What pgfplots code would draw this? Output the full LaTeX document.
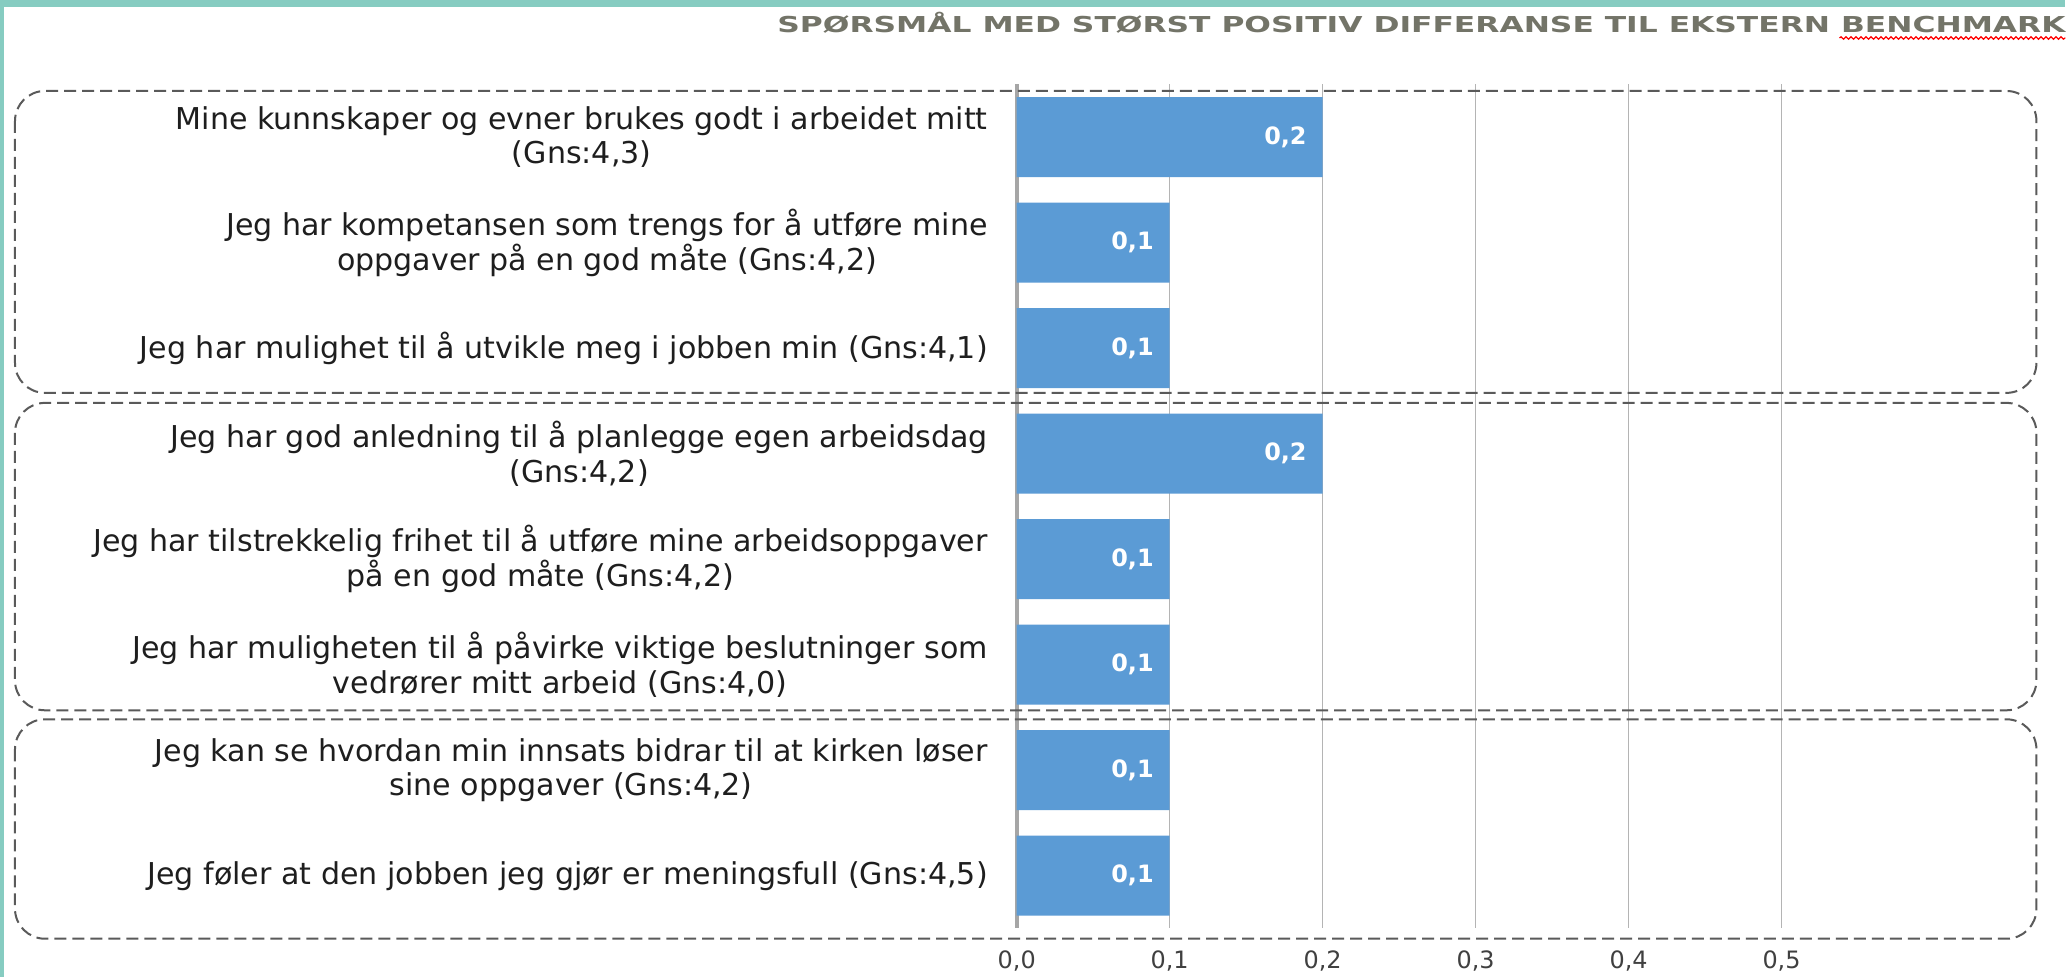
\documentclass[border=0pt]{standalone}
\usepackage{pgfplots}
\pgfplotsset{compat=1.18}
\usepackage{fontspec}
\setmainfont{DejaVu Sans}
\usetikzlibrary{decorations.pathmorphing}
\definecolor{tealband}{HTML}{86CCC1}
\definecolor{barblue}{HTML}{5B9BD5}
\definecolor{titlegray}{HTML}{737468}
\definecolor{gridgray}{HTML}{B4B4B4}
\definecolor{axisgray}{HTML}{A6A6A6}
\definecolor{boxgray}{HTML}{5A5A5A}
\definecolor{labelblack}{HTML}{1E1E1E}
\definecolor{tickgray}{HTML}{404040}
\begin{document}
\begin{tikzpicture}
\begin{scope}[x=0.5bp,y=-0.5bp]
\path[use as bounding box, fill=white] (0,0) rectangle (2066,977);
\fill[tealband] (0,0) rectangle (2066,7);
\fill[tealband] (0,0) rectangle (4,977);
\end{scope}
\begin{axis}[
  at={(508.5bp,-464.35bp)}, anchor=south west,
  width=382.5bp, height=422.2bp, scale only axis,
  xbar, bar width=40bp,
  xmin=0, xmax=0.5, ymin=-0.5, ymax=7.5, y dir=reverse,
  axis x line*=bottom, axis y line*=left,
  x axis line style={draw=none},
  y axis line style={draw=axisgray, line width=2.2bp},
  major tick length=0pt,
  xtick={0,0.1,0.2,0.3,0.4,0.5},
  ytick={0,1,2,3,4,5,6,7},
  yticklabels={
    {Mine kunnskaper og evner brukes godt i arbeidet mitt\\(Gns:4,3)},
    {Jeg har kompetansen som trengs for å utføre mine\\oppgaver på en god måte (Gns:4,2)},
    {Jeg har mulighet til å utvikle meg i jobben min (Gns:4,1)},
    {Jeg har god anledning til å planlegge egen arbeidsdag\\(Gns:4,2)},
    {Jeg har tilstrekkelig frihet til å utføre mine arbeidsoppgaver\\på en god måte (Gns:4,2)},
    {Jeg har muligheten til å påvirke viktige beslutninger som\\vedrører mitt arbeid (Gns:4,0)},
    {Jeg kan se hvordan min innsats bidrar til at kirken løser\\sine oppgaver (Gns:4,2)},
    {Jeg føler at den jobben jeg gjør er meningsfull (Gns:4,5)}
  },
  xmajorgrids, grid style={draw=gridgray, line width=0.75bp},
  xticklabel style={font=\fontsize{12}{14}\selectfont, text=tickgray, yshift=-7.5bp},
  yticklabel style={font=\fontsize{15.1}{17.5}\selectfont, text=labelblack, align=center, xshift=-11bp},
  /pgf/number format/fixed,
  /pgf/number format/fixed zerofill,
  /pgf/number format/precision=1,
  /pgf/number format/use comma,
  /pgf/number format/assume math mode=true,
  point meta=x,
  nodes near coords={\pgfmathprintnumber{\pgfplotspointmeta}},
  every node near coord/.append style={anchor=east, xshift=-4.5bp, text=white, font=\bfseries\fontsize{12}{14}\selectfont},
]
\addplot[fill=barblue, draw=none] coordinates {
  (0.2,0) (0.1,1) (0.1,2) (0.2,3) (0.1,4) (0.1,5) (0.1,6) (0.1,7)
};
\end{axis}
\begin{scope}[x=0.5bp,y=-0.5bp]
\draw[boxgray, line width=1bp, dash pattern=on 6bp off 3bp, rounded corners=15bp] (15,91) rectangle (2037,393);
\draw[boxgray, line width=1bp, dash pattern=on 6bp off 3bp, rounded corners=15bp] (15,403) rectangle (2037,710.5);
\draw[boxgray, line width=1bp, dash pattern=on 6bp off 3bp, rounded corners=15bp] (15,719.5) rectangle (2037,939);
\node[anchor=base west, inner sep=0pt, text=titlegray, font=\bfseries\fontsize{11}{13}\selectfont, xscale=1.43] at (777,33) {SPØRSMÅL MED STØRST POSITIV DIFFERANSE TIL EKSTERN BENCHMARK};
\draw[red, line width=0.6bp, decorate, decoration={snake, amplitude=0.6bp, segment length=2.5bp}] (1840,38) -- (2066,38);
\end{scope}
\end{tikzpicture}
\end{document}
